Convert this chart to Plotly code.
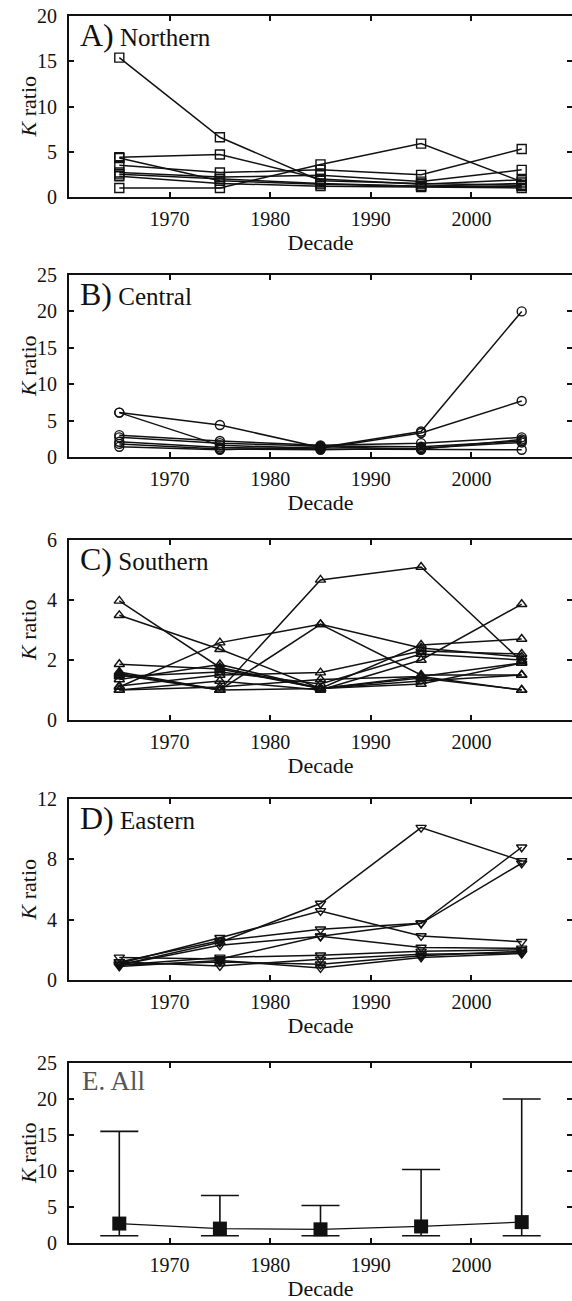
import plotly.graph_objects as go

decades = [1965, 1975, 1985, 1995, 2005]
x_ticks = [1970, 1980, 1990, 2000]

northern = [
    [15.4, 6.6, 1.8, 1.5, 1.3],
    [4.4, 4.7, 2.0, 1.4, 1.9],
    [4.3, 1.8, 1.4, 1.2, 1.5],
    [3.5, 2.7, 3.0, 2.45, 5.3],
    [2.7, 2.2, 2.4, 1.7, 3.0],
    [2.3, 1.5, 1.2, 1.1, 1.0],
    [1.0, 1.0, 3.6, 5.9, 1.7],
    [2.5, 2.0, 1.5, 1.2, 1.2],
]
central = [
    [6.1, 4.4, 1.3, 3.5, 20.0],
    [6.1, 1.6, 1.2, 3.3, 7.7],
    [3.0, 2.2, 1.6, 1.9, 2.7],
    [2.7, 1.9, 1.5, 1.4, 2.2],
    [2.1, 1.3, 1.1, 1.0, 1.0],
    [1.8, 1.1, 1.0, 1.2, 2.0],
    [1.4, 1.0, 1.4, 1.1, 2.4],
]
southern = [
    [3.97, 1.75, 1.05, 1.45, 1.0],
    [3.49, 2.36, 1.05, 1.3, 1.5],
    [1.1, 2.58, 3.19, 2.4, 2.1],
    [1.86, 1.7, 1.05, 1.4, 1.0],
    [1.6, 1.0, 4.67, 5.1, 1.95],
    [1.5, 1.0, 3.19, 1.5, 1.5],
    [1.35, 1.85, 1.05, 2.5, 2.7],
    [1.13, 1.5, 1.58, 2.3, 2.2],
    [1.0, 1.3, 1.0, 2.0, 3.86],
    [1.45, 1.6, 1.2, 2.2, 2.0],
    [1.55, 1.0, 1.05, 1.2, 1.9],
    [1.0, 1.1, 1.35, 1.45, 1.9],
]
eastern = [
    [1.0, 2.5, 5.07, 10.1, 7.9],
    [1.1, 2.8, 4.58, 2.92, 2.54],
    [1.2, 2.6, 3.36, 3.76, 8.8],
    [1.0, 2.3, 2.9, 3.76, 7.74],
    [1.5, 1.4, 2.9, 2.15, 2.1],
    [1.0, 1.5, 1.64, 1.9, 2.0],
    [1.2, 0.93, 1.37, 1.7, 1.8],
    [0.9, 1.3, 0.8, 1.5, 1.75],
    [1.0, 1.2, 1.04, 1.6, 1.9],
]
all_mean = [2.7, 2.0, 1.9, 2.3, 2.9]
all_max = [15.5, 6.6, 5.2, 10.2, 20.0]
all_min = [1.0, 1.0, 1.0, 1.0, 1.0]

panels = [
    ("A)", "Northern", northern, "square-open", [0, 20], [0, 5, 10, 15, 20]),
    ("B)", "Central", central, "circle-open", [0, 25], [0, 5, 10, 15, 20, 25]),
    ("C)", "Southern", southern, "triangle-up-open", [0, 6], [0, 2, 4, 6]),
    ("D)", "Eastern", eastern, "triangle-down-open", [0, 12], [0, 4, 8, 12]),
]
e_range = [0, 25]
e_ticks = [0, 5, 10, 15, 20, 25]

W, H = 572, 1301
ML, MT, MB = 69, 16, 58
plot_w = W - ML
plot_h = H - MT - MB
panel_px = [(16, 197), (275, 457), (540, 720), (799, 980), (1063, 1243)]
bottom_px = H - MB

def dom(top, bot):
    return [max(0, (bottom_px - bot) / plot_h), min(1, (bottom_px - top) / plot_h)]

FONT = "Liberation Serif"
INK = "#111111"
fig = go.Figure()

for i, (lab, name, series, sym, yr, yt) in enumerate(panels):
    n = i + 1
    xa = "x" if n == 1 else f"x{n}"
    ya = "y" if n == 1 else f"y{n}"
    for s in series:
        fig.add_trace(go.Scatter(
            x=decades, y=s, mode="lines+markers", xaxis=xa, yaxis=ya,
            line=dict(color=INK, width=1.5),
            marker=dict(symbol=sym, size=9, color=INK, line=dict(width=1.4, color=INK)),
            showlegend=False, hoverinfo="skip"))

# Panel E
mean_arr = all_mean
plus = [mx - m for mx, m in zip(all_max, mean_arr)]
minus = [m - mn for m, mn in zip(mean_arr, all_min)]
fig.add_trace(go.Scatter(
    x=decades, y=mean_arr, mode="lines+markers", xaxis="x5", yaxis="y5",
    line=dict(color=INK, width=1.3),
    marker=dict(symbol="square", size=14, color=INK),
    error_y=dict(type="data", array=plus, arrayminus=minus, symmetric=False,
                 color=INK, thickness=1.6, width=19),
    showlegend=False, hoverinfo="skip"))

fig.update_layout(
    template="none",
    width=W, height=H,
    margin=dict(l=ML, r=0, t=MT, b=MB, pad=0),
    paper_bgcolor="white", plot_bgcolor="white",
    font_family=FONT, font_size=20, font_color=INK,
)

yranges = [p[4] for p in panels] + [e_range]
yticks = [p[5] for p in panels] + [e_ticks]
annotations = []
for i in range(5):
    n = i + 1
    xk = "xaxis" if n == 1 else f"xaxis{n}"
    yk = "yaxis" if n == 1 else f"yaxis{n}"
    ya = "y" if n == 1 else f"y{n}"
    xa = "x" if n == 1 else f"x{n}"
    top, bot = panel_px[i]
    fig.layout[xk] = go.layout.XAxis(
        domain=[0, 1], anchor=ya, range=[1960, 2010],
        tickmode="array", tickvals=x_ticks, ticks="inside", ticklen=5, tickwidth=1.5,
        tickcolor=INK, showline=True, linecolor=INK, linewidth=2, mirror="ticks",
        showgrid=False, zeroline=False,
        tickfont=dict(size=20, family=FONT, color=INK),
        ticklabelstandoff=3,
        title=dict(text="Decade", font=dict(size=22, family=FONT, color=INK), standoff=0),
    )
    fig.layout[yk] = go.layout.YAxis(
        domain=dom(top, bot), anchor=xa, range=yranges[i],
        tickmode="array", tickvals=yticks[i], ticks="inside", ticklen=5, tickwidth=1.5,
        tickcolor=INK, showline=True, linecolor=INK, linewidth=2, mirror="ticks",
        showgrid=False, zeroline=False,
        tickfont=dict(size=20, family=FONT, color=INK),
        ticklabelstandoff=6,
    )
    # y-axis title placed as rotated text, centred on the panel
    annotations.append(dict(
        text="<i>K</i> ratio", textangle=-90,
        xref="paper", yref=f"{ya} domain", x=(28 - ML) / plot_w, y=0.5,
        xanchor="center", yanchor="middle", showarrow=False,
        font=dict(size=22, family=FONT, color=INK)))

for i, (lab, name, *_rest) in enumerate(panels):
    n = i + 1
    xa = "x" if n == 1 else f"x{n}"
    ya = "y" if n == 1 else f"y{n}"
    annotations.append(dict(
        text=f"<span style='font-size:32px'>{lab}</span> {name}",
        xref=f"{xa} domain", yref=f"{ya} domain", x=0.018, y=0.895,
        xanchor="left", yanchor="middle", showarrow=False,
        font=dict(size=25, family=FONT, color=INK)))
annotations.append(dict(
    text="E. All", xref="x5 domain", yref="y5 domain", x=0.022, y=0.9,
    xanchor="left", yanchor="middle", showarrow=False,
    font=dict(size=27, family=FONT, color="#555555")))
fig.update_layout(annotations=annotations)

fig.write_html("out.html")
